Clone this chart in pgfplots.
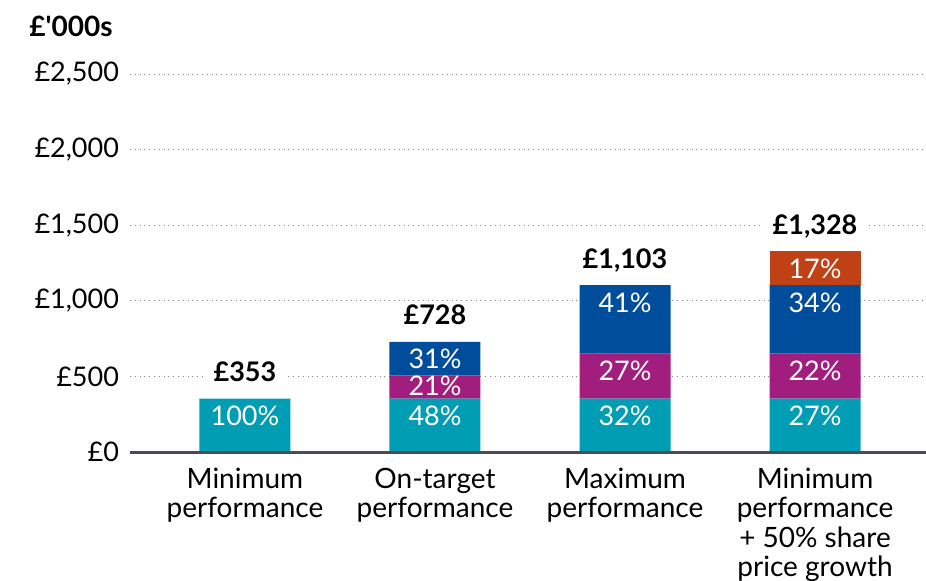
\documentclass[border=0pt]{standalone}
\usepackage{fontspec}
\setmainfont{Lato}
\usepackage{pgfplots}
\pgfplotsset{compat=1.18}
\definecolor{cteal}{HTML}{009DB5}
\definecolor{cmag}{HTML}{A11D7E}
\definecolor{cblue}{HTML}{004E9B}
\definecolor{corange}{HTML}{C04116}
\definecolor{caxis}{HTML}{4A4B57}
\newcommand{\lblfont}{\fontsize{13.5}{14.75}\selectfont}
\newcommand{\catfont}{\fontsize{14}{14.75}\selectfont}
\tikzset{
  seg/.style={anchor=base, yshift=-13.5pt, color=white, font=\lblfont, inner sep=0pt},
  tot/.style={anchor=base, yshift=8.5pt, text=black, font=\lblfont\bfseries, fill=white, inner xsep=5pt, inner ysep=1pt},
}
\begin{document}
\begin{tikzpicture}
\useasboundingbox (-65pt,-64pt) rectangle (398pt,226pt);
\begin{axis}[
  at={(0,0)}, anchor=south west,
  scale only axis, width=398pt, height=189pt,
  ybar stacked, bar width=45.5pt,
  xmin=-0.605, xmax=3.584, ymin=0, ymax=2500,
  axis line style={draw=none},
  major tick length=0pt,
  xtick={0,1,2,3},
  xticklabels={{Minimum\\performance},{On-target\\performance},{Maximum\\performance},{Minimum\\performance\\+ 50\% share\\price growth}},
  xticklabel style={align=center, font=\catfont, anchor=north, yshift=-4.5pt},
  ytick={0,500,1000,1500,2000,2500},
  yticklabels={£0,£500,{£1,000},{£1,500},{£2,000},{£2,500}},
  yticklabel style={font=\lblfont, anchor=east, xshift=-2pt},
  ymajorgrids, grid style={gray, dotted, line width=0.5pt},
  clip=false,
  after end axis/.code={
    \node[seg] at (axis cs:0,353) {100\%};
    \node[seg] at (axis cs:1,353) {48\%};
    \node[seg] at (axis cs:2,353) {32\%};
    \node[seg] at (axis cs:3,353) {27\%};
    \node[seg, yshift=3.5pt] at (axis cs:1,506) {21\%};
    \node[seg] at (axis cs:2,651) {27\%};
    \node[seg] at (axis cs:3,651) {22\%};
    \node[seg] at (axis cs:1,728) {31\%};
    \node[seg] at (axis cs:2,1103) {41\%};
    \node[seg] at (axis cs:3,1103) {34\%};
    \node[seg] at (axis cs:3,1328) {17\%};
    \node[tot] at (axis cs:0,353) {£353};
    \node[tot] at (axis cs:1,728) {£728};
    \node[tot] at (axis cs:2,1103) {£1,103};
    \node[tot] at (axis cs:3,1328) {£1,328};
    \draw[caxis, line width=1.5pt] (rel axis cs:0,0) -- (rel axis cs:1,0);
  },
]
\addplot[draw=none, fill=cteal] coordinates {(0,353) (1,353) (2,353) (3,353)};
\addplot[draw=none, fill=cmag] coordinates {(0,0) (1,153) (2,298) (3,298)};
\addplot[draw=none, fill=cblue] coordinates {(0,0) (1,222) (2,452) (3,452)};
\addplot[draw=none, fill=corange] coordinates {(0,0) (1,0) (2,0) (3,225)};
\end{axis}
\node[anchor=base west, font=\fontsize{14}{15}\selectfont\bfseries, inner sep=0pt] at (-50.5pt,208pt) {£\textquotesingle000s};
\end{tikzpicture}
\end{document}
